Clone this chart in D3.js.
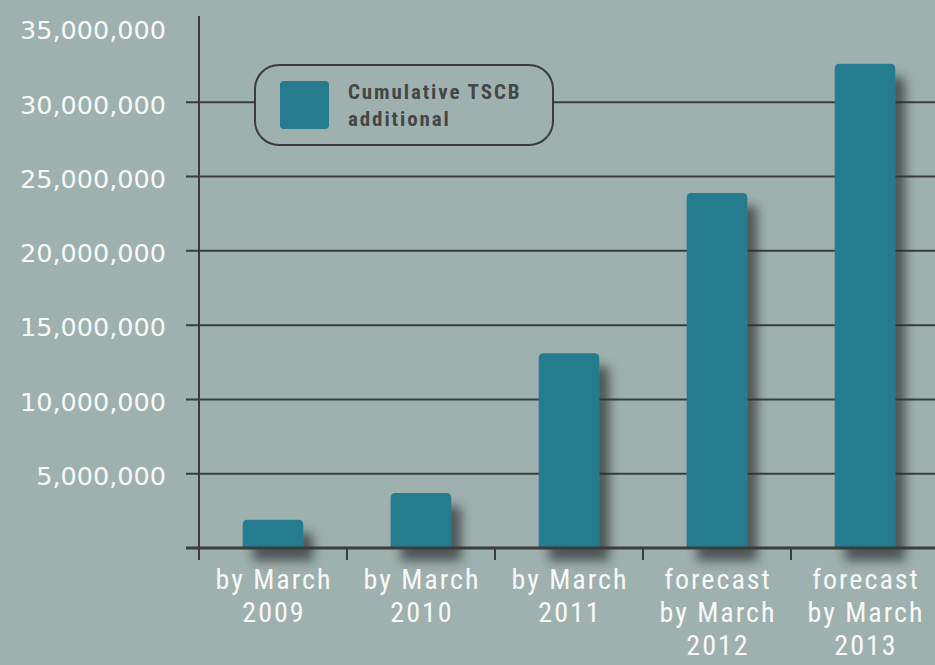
<!DOCTYPE html>
<html>
<head>
<meta charset="utf-8">
<script src="https://cdn.jsdelivr.net/npm/d3@7"></script>
<style>
  html, body { margin: 0; padding: 0; background: #9fb1ae; }
  svg { display: block; }
</style>
</head>
<body>
<div id="chart"></div>
<script>
const categories = [
  ["by March", "2009"],
  ["by March", "2010"],
  ["by March", "2011"],
  ["forecast", "by March", "2012"],
  ["forecast", "by March", "2013"]
]
const values = [1900000, 3700000, 13100000, 23900000, 32600000]
const yTicks = [5000000, 10000000, 15000000, 20000000, 25000000, 30000000, 35000000]
const legendLines = ["Cumulative TSCB", "additional"]

const width = 935, height = 665
const margin = {top: 28, right: 0, bottom: 117, left: 199}
const barColor = "#267b8f"
const lineColor = "#3b3c3c"
const narrow = "Liberation Sans Narrow, Roboto Condensed, sans-serif"

const svg = d3.select("#chart").append("svg")
  .attr("width", width)
  .attr("height", height)
  .attr("viewBox", [0, 0, width, height])

svg.append("rect").attr("width", width).attr("height", height).attr("fill", "#9fb1ae")

const defs = svg.append("defs")
const shadow = defs.append("filter").attr("id", "shadow")
  .attr("x", "-20%").attr("y", "-20%").attr("width", "160%").attr("height", "160%")
shadow.append("feDropShadow")
  .attr("dx", 10).attr("dy", 13).attr("stdDeviation", 5.5)
  .attr("flood-color", "#2a2f2f").attr("flood-opacity", 0.7)

const x = d3.scaleBand()
  .domain(d3.range(categories.length))
  .range([margin.left, 199 + 148 * categories.length])
  .paddingInner(0.59).paddingOuter(0.295)

const band = d3.scaleBand()
  .domain(d3.range(categories.length))
  .range([margin.left, 199 + 148 * categories.length])

const y = d3.scaleLinear()
  .domain([0, 35000000])
  .range([height - margin.bottom, margin.top])

// gridlines (no line at the top value)
svg.append("g")
  .selectAll("line")
  .data(yTicks.filter(d => d < 35000000))
  .join("line")
  .attr("x1", 186).attr("x2", width)
  .attr("y1", d => y(d)).attr("y2", d => y(d))
  .attr("stroke", lineColor).attr("stroke-width", 2)

// y axis labels
svg.append("g")
  .attr("transform", `translate(${margin.left}, 0)`)
  .call(d3.axisLeft(y).tickValues(yTicks).tickSize(0).tickPadding(33)
    .tickFormat(d3.format(",")))
  .call(g => g.select(".domain").remove())
  .call(g => g.selectAll("text")
    .attr("dy", "0.42em")
    .attr("fill", "#f7f9f8")
    .attr("font-family", "DejaVu Sans, Verdana, sans-serif")
    .attr("font-size", 25.5))

// y axis line
svg.append("line")
  .attr("x1", margin.left).attr("x2", margin.left)
  .attr("y1", 16).attr("y2", y(0) + 12)
  .attr("stroke", lineColor).attr("stroke-width", 2)

// legend
const legend = svg.append("g").attr("transform", "translate(255, 65)")
legend.append("rect")
  .attr("width", 298).attr("height", 80).attr("rx", 24)
  .attr("fill", "#9fb1ae").attr("stroke", lineColor).attr("stroke-width", 2)
legend.append("rect")
  .attr("x", 25).attr("y", 16).attr("width", 49).attr("height", 48).attr("rx", 4)
  .attr("fill", barColor)
legend.append("text")
  .attr("font-family", narrow)
  .attr("font-weight", "bold").attr("font-size", 21).attr("fill", "#454747")
  .attr("letter-spacing", 1.9)
  .selectAll("tspan")
  .data(legendLines)
  .join("tspan")
  .attr("x", 93)
  .attr("y", (d, i) => 34 + i * 27)
  .text(d => d)

// bars with rounded top corners
const r = 5
const barPath = (i, v) => {
  const x0 = x(i), x1 = x(i) + x.bandwidth(), y0 = y(0), y1 = y(v)
  return `M${x0},${y0}V${y1 + r}Q${x0},${y1} ${x0 + r},${y1}H${x1 - r}Q${x1},${y1} ${x1},${y1 + r}V${y0}Z`
}
svg.append("g")
  .attr("filter", "url(#shadow)")
  .selectAll("path")
  .data(values)
  .join("path")
  .attr("d", (d, i) => barPath(i, d))
  .attr("fill", barColor)

// x axis
svg.append("line")
  .attr("x1", 186).attr("x2", width)
  .attr("y1", y(0)).attr("y2", y(0))
  .attr("stroke", lineColor).attr("stroke-width", 3)

svg.append("g")
  .selectAll("line")
  .data(d3.range(categories.length))
  .join("line")
  .attr("x1", d => band(d)).attr("x2", d => band(d))
  .attr("y1", y(0)).attr("y2", y(0) + 12)
  .attr("stroke", lineColor).attr("stroke-width", 2)

svg.append("g")
  .selectAll("text")
  .data(categories)
  .join("text")
  .attr("font-family", narrow)
  .attr("font-size", 28)
  .attr("letter-spacing", 2)
  .attr("fill", "#f7f9f8")
  .attr("text-anchor", "middle")
  .each(function(d, i) {
    d3.select(this).selectAll("tspan")
      .data(d)
      .join("tspan")
      .attr("x", band(i) + band.bandwidth() / 2 + 1)
      .attr("y", (t, j) => 589 + j * 33)
      .text(t => t)
  })
</script>
</body>
</html>
